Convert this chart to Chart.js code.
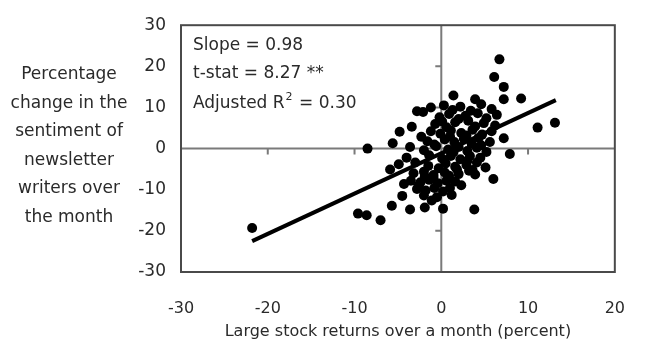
<!DOCTYPE html>
<html>
<head>
<meta charset="utf-8">
<script src="https://cdn.jsdelivr.net/npm/chart.js@4.4.0/dist/chart.umd.min.js"></script>
<style>
  html, body { margin: 0; padding: 0; background: #fff; }
  #wrap { width: 652px; height: 356px; position: relative; }
</style>
</head>
<body>
<div id="wrap"><canvas id="chartCanvas"></canvas></div>
<script>
// ===============================
// data
// ===============================
const returnsX = [
  -21.8, -9.6, -8.6, -7.0, -5.7, -3.6, -1.9, 0.2, 3.8,
  -4.5, -4.3, -5.9, 1.2, 2.3, 6.0, 3.9, 5.1, 7.9,
  -8.5, -5.6, -4.8, -3.4, -2.3, -2.8, -2.1, -1.2, -0.7,
  6.7, 6.1, 7.2, 9.2, 1.4, 3.9, 11.1, 13.1, 7.2, 7.2,
  0.3, 2.2, 4.6, 5.8,
  0.9, 2.8, 4.2, 6.4, -0.2,
  1.6, 3.1, 4.9, 6.2, 0.6,
  -1.2, -0.1, 1.1, 2.3, 3.6, 4.7, 5.8,
  -1.6, 0.4, 1.5, 2.6, 3.5, 4.3, 5.6,
  -3.6, -2.0, -0.6, 0.8, 2.0, 3.0, 4.1, 5.2,
  -4.0, -1.4, 0.1, 1.1, 2.2, 3.3, 4.5,
  -4.9, -3.0, -1.5, 0.5, 1.6, 2.9, 4.1,
  -3.2, -2.0, -0.9, 0.4, 2.0, 3.2,
  -3.5, -2.4, -1.4, -0.4, 0.6, 1.6,
  -2.8, -1.8, -0.8, 0.2, 1.0,
  -2.0, -0.5,
  1.3, 3.4, 5.2, 0.1, 2.0, 3.9, 1.0, 2.9, 4.6,
  -0.8, 1.4, 3.0, -0.3, 1.8, 3.6, -1.9, -0.9, 0.9, -2.6, -1.1
];
const sentimentY = [
  -19.3, -15.8, -16.2, -17.4, -13.9, -14.8, -14.3, -14.6, -14.8,
  -11.5, -8.6, -5.1, -11.3, -8.9, -7.4, -6.3, -4.6, -1.3,
  0.0, 1.3, 4.1, 5.3, 2.9, 9.1, 8.9, 10.0, 6.0,
  21.7, 17.4, 15.0, 12.2, 12.9, 12.0, 5.1, 6.3, 2.5, 12.0,
  10.5, 10.2, 10.8, 9.6,
  8.4, 8.0, 8.6, 8.2, 7.6,
  6.4, 6.8, 6.2, 5.6, 5.2,
  4.2, 3.6, 4.4, 3.8, 4.6, 3.4, 4.2,
  1.8, 2.2, 1.6, 2.4, 1.2, 2.6, 1.6,
  0.4, -0.4, 0.6, -0.2, 0.4, -0.6, 0.2, -0.8,
  -2.2, -1.6, -2.4, -1.8, -2.6, -1.8, -2.2,
  -3.8, -3.4, -4.2, -3.6, -4.4, -4.0, -3.4,
  -6.0, -5.6, -6.4, -5.8, -6.2, -5.4,
  -7.8, -8.2, -7.6, -8.4, -7.8, -8.0,
  -9.8, -10.2, -9.6, -10.4, -9.6,
  -11.4, -11.8,
  9.4, 9.2, 7.4, 6.6, 7.2, 5.4, 3.0, 3.2, 0.8,
  1.0, -0.9, -3.0, -4.8, -5.0, -5.2, -6.8, -7.0, -6.6, -9.0, -12.6
];

// fitted line end points
const fitX = [-21.8, 13.2];
const fitY = [-22.5, 11.8];

const xTicks = [-30, -20, -10, 0, 10, 20];
const yTicks = [-30, -20, -10, 0, 10, 20, 30];

const xTitle = "Large stock returns over a month (percent)";
const yTitleLines = ["Percentage", "change in the", "sentiment of", "newsletter", "writers over", "the month"];
const statSlope = "Slope = 0.98";
const statT = "t-stat = 8.27 **";
const statR2 = ["Adjusted R", "2", " = 0.30"];

const FONT = "'DejaVu Sans', 'Liberation Sans', Arial, sans-serif";
const TEXT = "#2a2a2a";

// ===============================
// frame, zero axes, side text
// ===============================
const framePlugin = {
  id: "framePlugin",
  beforeDatasetsDraw(chart) {
    const { ctx, chartArea: a, scales: { x, y } } = chart;
    const x0 = x.getPixelForValue(0);
    const y0 = y.getPixelForValue(0);
    ctx.save();
    ctx.strokeStyle = "#7a7a7a";
    ctx.lineWidth = 2;
    ctx.beginPath();
    ctx.moveTo(a.left, y0); ctx.lineTo(a.right, y0);
    ctx.moveTo(x0, a.top); ctx.lineTo(x0, a.bottom);
    // small ticks on the zero axes
    xTicks.forEach(v => {
      if (v === 0 || v === xTicks[0] || v === xTicks[xTicks.length - 1]) return;
      const px = x.getPixelForValue(v);
      ctx.moveTo(px, y0); ctx.lineTo(px, y0 + 6);
    });
    yTicks.forEach(v => {
      if (v === 0 || v === yTicks[0] || v === yTicks[yTicks.length - 1]) return;
      const py = y.getPixelForValue(v);
      ctx.moveTo(x0, py); ctx.lineTo(x0 - 6, py);
    });
    ctx.stroke();
    ctx.restore();
  },
  afterDraw(chart) {
    const { ctx, chartArea: a } = chart;
    ctx.save();
    ctx.strokeStyle = "#4a4a4a";
    ctx.lineWidth = 2;
    ctx.strokeRect(a.left, a.top, a.right - a.left, a.bottom - a.top);

    ctx.fillStyle = TEXT;
    ctx.textBaseline = "middle";
    ctx.font = "17px " + FONT;

    // y title, horizontal lines to the left
    ctx.textAlign = "center";
    yTitleLines.forEach((t, i) => ctx.fillText(t, 69, 75 + i * 28.5));

    // regression stats
    ctx.textAlign = "left";
    const sx = a.left + 12;
    ctx.fillText(statSlope, sx, 46);
    ctx.fillText(statT, sx, 74);
    let w = ctx.measureText(statR2[0]).width;
    ctx.fillText(statR2[0], sx, 104);
    ctx.font = "11px " + FONT;
    ctx.fillText(statR2[1], sx + w + 1, 97);
    const w2 = ctx.measureText(statR2[1]).width;
    ctx.font = "17px " + FONT;
    ctx.fillText(statR2[2], sx + w + w2 + 2, 104);
    ctx.restore();
  }
};

// ===============================
// chart
// ===============================
const ctx = document.getElementById("chartCanvas").getContext("2d");

const chart = new Chart(ctx, {
  type: "scatter",
  data: {
    datasets: [
      {
        data: returnsX.map((v, i) => ({ x: v, y: sentimentY[i] })),
        backgroundColor: "#000",
        borderWidth: 0,
        pointRadius: 5,
        order: 2
      },
      {
        type: "line",
        data: fitX.map((v, i) => ({ x: v, y: fitY[i] })),
        borderColor: "#000",
        borderWidth: 4,
        pointRadius: 0,
        fill: false,
        order: 1
      }
    ]
  },
  options: {
    responsive: true,
    maintainAspectRatio: false,
    animation: false,
    layout: { padding: { left: 0, top: 19, right: 13, bottom: 0 } },
    plugins: {
      legend: { display: false },
      tooltip: { enabled: false }
    },
    scales: {
      x: {
        type: "linear",
        min: -30,
        max: 20,
        afterBuildTicks(scale) { scale.ticks = xTicks.map(v => ({ value: v })); },
        afterFit(scale) { scale.height = 84; },
        grid: { display: false, drawTicks: false },
        border: { display: false },
        ticks: { color: TEXT, font: { family: FONT, size: 16 }, padding: 27, maxRotation: 0 },
        title: {
          display: true,
          text: xTitle,
          color: TEXT,
          font: { family: FONT, size: 16 },
          padding: { top: 0, bottom: 15 }
        }
      },
      y: {
        type: "linear",
        min: -30,
        max: 30,
        afterBuildTicks(scale) { scale.ticks = yTicks.map(v => ({ value: v })); },
        afterFit(scale) { scale.width = 181; },
        grid: { display: false, drawTicks: false },
        border: { display: false },
        ticks: { color: TEXT, font: { family: FONT, size: 17 }, padding: 15 }
      }
    }
  },
  plugins: [framePlugin]
});
</script>
</body>
</html>
